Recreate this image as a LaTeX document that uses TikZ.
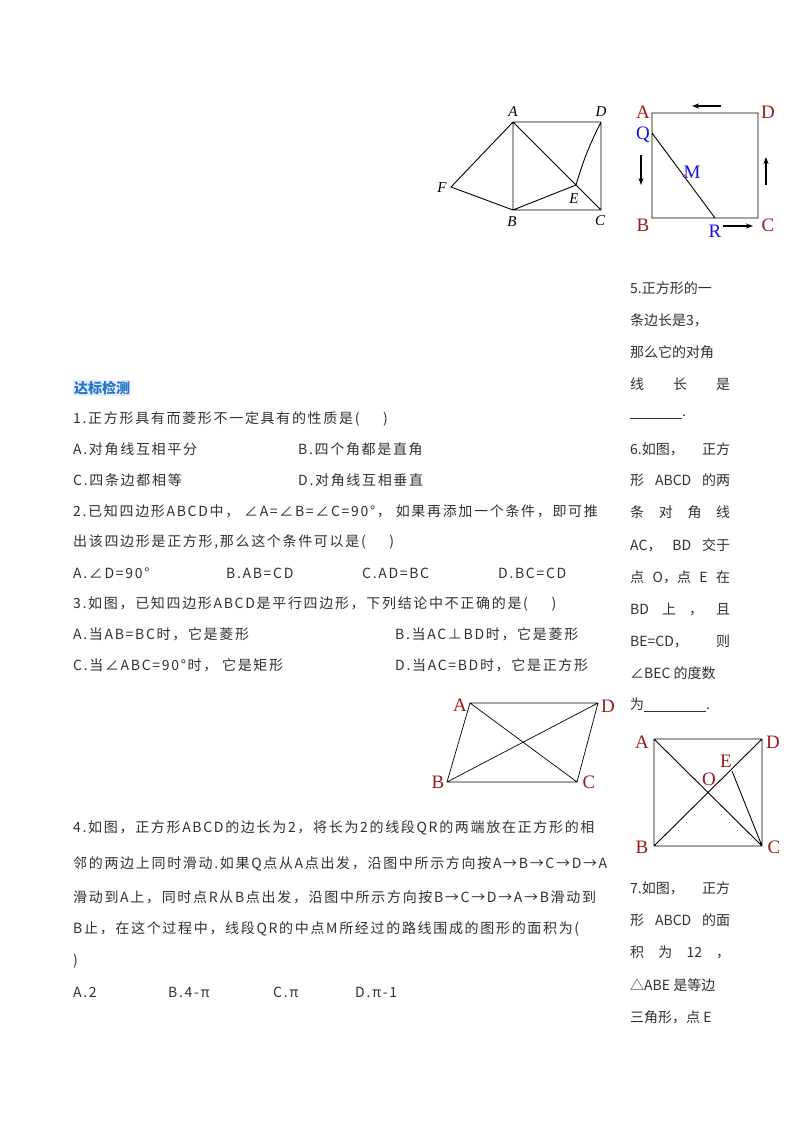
\documentclass[tikz,border=0pt]{standalone}
\usepackage{fontspec}
\setmainfont{Noto Sans CJK SC}
\newfontfamily\wide[LetterSpace=12]{Noto Sans CJK SC}
\newfontfamily\serif{Liberation Serif}
\usetikzlibrary{arrows.meta}
\definecolor{lbl}{HTML}{A01818}
\definecolor{blu}{HTML}{1010E0}
\definecolor{txt}{HTML}{303030}
\tikzset{
  ln/.style={line width=0.9pt,black},
  tl/.style={anchor=west,inner sep=0pt,font=\wide\fontsize{14}{14}\selectfont,text=txt},
  rt/.style={anchor=west,inner sep=0pt,font=\fontsize{14}{14}\selectfont,text=txt},
  rl/.style={font=\serif\fontsize{19}{19}\selectfont,text=lbl,inner sep=0pt},
  bl/.style={font=\serif\fontsize{19}{19}\selectfont,text=blu,inner sep=0pt},
  il/.style={font=\serif\itshape\fontsize{15}{15}\selectfont,inner sep=0pt},
  ar/.style={-{Stealth[length=7pt,width=5pt]},line width=1.3pt}
}
\newcommand{\spr}[1]{\makebox[100pt][s]{#1}}
\begin{document}
\begin{tikzpicture}[x=1pt,y=-1pt]
\useasboundingbox (0,0) rectangle (800,1132);
% figure 1
\coordinate (A1) at (513,122); \coordinate (D1) at (601,122);
\coordinate (B1) at (513,210); \coordinate (C1) at (601,210);
\coordinate (F1) at (451,187); \coordinate (E1) at (576,185);
\draw[ln] (A1)--(D1)--(C1)--(B1)--cycle (A1)--(F1)--(B1) (A1)--(C1) (B1)--(E1) (E1) to[bend left=5] (D1);
\node[il] (lA1) at (513,112) {A}; \node[il] (lD1) at (601,112) {D};
\node[il] (lB1) at (512,222) {B}; \node[il] (lC1) at (600,221) {C};
\node[il] (lF1) at (442,188) {F}; \node[il] (lE1) at (574,199) {E};
% figure 2
\coordinate (A2) at (652,113); \coordinate (D2) at (758,113);
\coordinate (B2) at (652,218); \coordinate (C2) at (758,218);
\coordinate (Q) at (652,133); \coordinate (R) at (715,218);
\draw[ln] (A2)--(D2)--(C2)--(B2)--cycle (Q)--(R);
\fill[red] (684,176) circle (1.6pt);
\node[rl] (lA2) at (643,112) {A}; \node[rl] (lD2) at (768,112) {D};
\node[rl] (lB2) at (643,225) {B}; \node[rl] (lC2) at (768,225) {C};
\node[bl] (lQ) at (643,135) {Q}; \node[bl] (lM) at (692,172) {M};
\node[bl] (lR) at (715,231) {R};
\coordinate (t1) at (721,106); \coordinate (t2) at (692,106);
\coordinate (l1) at (641,155); \coordinate (l2) at (641,185);
\coordinate (r1) at (766,185); \coordinate (r2) at (766,157);
\coordinate (b1) at (723,226); \coordinate (b2) at (753,226);
\draw[ar] (t1)--(t2); \draw[ar] (l1)--(l2); \draw[ar] (r1)--(r2); \draw[ar] (b1)--(b2);
% parallelogram
\coordinate (A3) at (470,703); \coordinate (D3) at (598,703);
\coordinate (B3) at (447,782); \coordinate (C3) at (577,782);
\draw[line width=0.7pt] (A3)--(D3)--(C3)--(B3)--cycle (A3)--(C3) (B3)--(D3);
\node[rl] (lA3) at (460,705) {A}; \node[rl] (lD3) at (608,706) {D};
\node[rl] (lB3) at (438,782) {B}; \node[rl] (lC3) at (589,782) {C};
% square fig 6
\coordinate (A4) at (654,739); \coordinate (D4) at (762,739);
\coordinate (B4) at (654,846); \coordinate (C4) at (762,846);
\coordinate (E4) at (732,771);
\draw[ln] (A4)--(D4)--(C4)--(B4)--cycle (A4)--(C4) (B4)--(D4) (E4)--(C4);
\node[rl] (lA4) at (642,742) {A}; \node[rl] (lD4) at (773,742) {D};
\node[rl] (lB4) at (642,847) {B}; \node[rl] (lC4) at (774,847) {C};
\node[rl] (lE4) at (726,761) {E}; \node[rl] (lO4) at (709,779) {O};
% heading
\node[anchor=west,inner sep=1pt,fill=blue!8,text={rgb,255:red,30;green,120;blue,200},font=\bfseries\fontsize{14}{14}\selectfont] (h) at (73,388) {达标检测};
% main text
\node[tl] (q1) at (73,419) {1.正方形具有而菱形不一定具有的性质是(\quad\ \ )};
\node[tl] (q1a) at (73,449) {A.对角线互相平分};
\node[tl] (q1b) at (298,449) {B.四个角都是直角};
\node[tl] (q1c) at (73,480) {C.四条边都相等};
\node[tl] (q1d) at (298,480) {D.对角线互相垂直};
\node[tl] (q2) at (73,511) {2.已知四边形ABCD中，\ ∠A=∠B=∠C=90°，\ 如果再添加一个条件，即可推};
\node[tl] (q2b) at (73,542) {出该四边形是正方形,那么这个条件可以是(\quad\ \ )};
\node[tl] (q2o1) at (73,573) {A.∠D=90°};
\node[tl] (q2o2) at (226,573) {B.AB=CD};
\node[tl] (q2o3) at (362,573) {C.AD=BC};
\node[tl] (q2o4) at (498,573) {D.BC=CD};
\node[tl] (q3) at (73,604) {3.如图，已知四边形ABCD是平行四边形，下列结论中不正确的是(\quad\ \ )};
\node[tl] (q3a) at (73,634) {A.当AB=BC时，它是菱形};
\node[tl] (q3b) at (395,634) {B.当AC⊥BD时，它是菱形};
\node[tl] (q3c) at (73,665) {C.当∠ABC=90°时，\ 它是矩形};
\node[tl] (q3d) at (395,665) {D.当AC=BD时，它是正方形};
\node[tl] (q4) at (73,828) {4.如图，正方形ABCD的边长为2，将长为2的线段QR的两端放在正方形的相};
\node[tl] (q4b) at (73,864) {邻的两边上同时滑动.如果Q点从A点出发，沿图中所示方向按A→B→C→D→A};
\node[tl] (q4c) at (73,897) {滑动到A上，同时点R从B点出发，沿图中所示方向按B→C→D→A→B滑动到};
\node[tl] (q4d) at (73,929) {B止，在这个过程中，线段QR的中点M所经过的路线围成的图形的面积为(};
\node[tl] (q4e) at (73,961) {)};
\node[tl] (q4o1) at (73,992) {A.2};
\node[tl] (q4o2) at (168,992) {B.4-π};
\node[tl] (q4o3) at (273,992) {C.π};
\node[tl] (q4o4) at (355,992) {D.π-1};
% right column
\node[rt] (r1) at (630,288) {5.正方形的一};
\node[rt] (r2) at (630,320) {条边长是3，};
\node[rt] (r3) at (630,352) {那么它的对角};
\node[rt] (r4) at (630,384) {\spr{线\hfill 长\hfill 是}};
\node[rt] (r5) at (630,417) {\underline{\hspace{52pt}}.};
\node[rt] (r6) at (630,449) {\spr{6.如图，\hfill 正方}};
\node[rt] (r7) at (630,480) {\spr{形\hfill ABCD\hfill 的两}};
\node[rt] (r8) at (630,512) {\spr{条\hfill 对\hfill 角\hfill 线}};
\node[rt] (r9) at (630,545) {\spr{AC，\hfill BD\hfill 交于}};
\node[rt] (r10) at (630,577) {\spr{点\hfill O，点\hfill E\hfill 在}};
\node[rt] (r11) at (630,609) {\spr{BD\hfill 上\hfill ，\hfill 且}};
\node[rt] (r12) at (630,641) {\spr{BE=CD，\hfill 则}};
\node[rt] (r13) at (630,673) {∠BEC 的度数};
\node[rt] (r14) at (630,705) {为\underline{\hspace{62pt}}.};
\node[rt] (r15) at (630,888) {\spr{7.如图，\hfill 正方}};
\node[rt] (r16) at (630,920) {\spr{形\hfill ABCD\hfill 的面}};
\node[rt] (r17) at (630,952) {\spr{积\hfill 为\hfill 12\hfill ，}};
\node[rt] (r18) at (630,985) {△ABE 是等边};
\node[rt] (r19) at (630,1017) {三角形，点 E};
\end{tikzpicture}
\end{document}
